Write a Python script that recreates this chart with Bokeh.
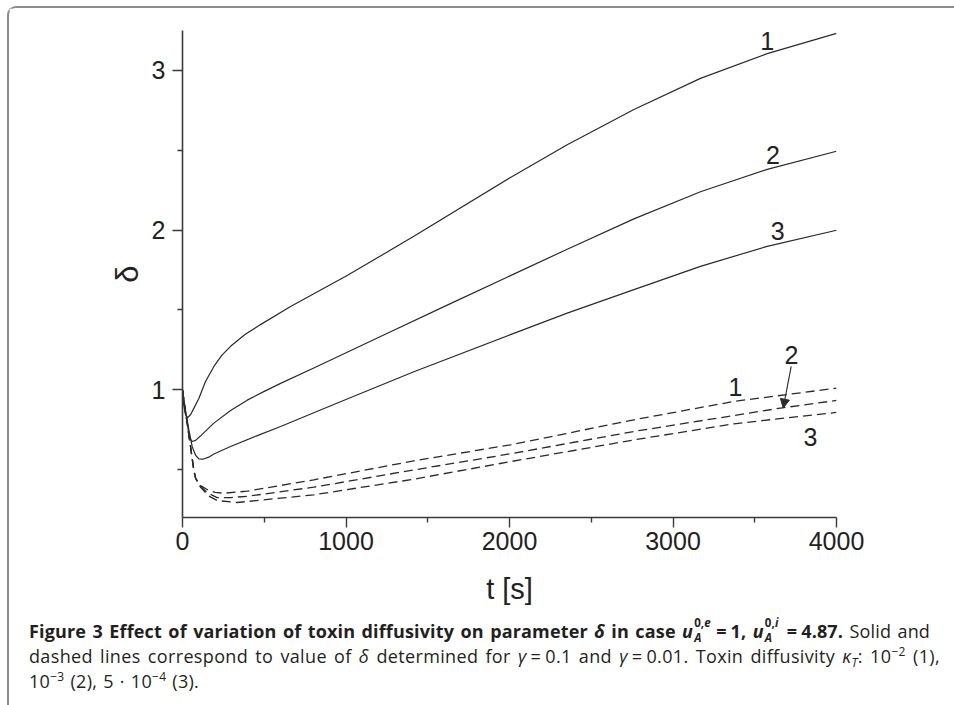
from bokeh.plotting import figure
from bokeh.models import FixedTicker, Div, Arrow, NormalHead, Range1d
from bokeh.layouts import column
from bokeh.core.properties import value
from bokeh.embed import file_html
from bokeh.resources import INLINE

# ---- data ----
# solid lines (gamma = 0.1)
t_s1 = [0, 8, 18, 32, 50, 70, 100, 140, 192, 240, 294, 380, 477, 661, 1007, 1415, 2006, 2353, 2761, 3168, 3576, 4000]
d_s1 = [1.0, 0.9, 0.845, 0.826, 0.845, 0.885, 0.945, 1.05, 1.146, 1.215, 1.272, 1.345, 1.408, 1.522, 1.715, 1.961, 2.33, 2.535, 2.755, 2.95, 3.105, 3.232]

t_s2 = [0, 15, 29, 40, 59, 80, 110, 150, 192, 294, 396, 500, 600, 803, 1211, 1619, 2006, 2353, 2761, 3168, 3576, 4000]
d_s2 = [1.0, 0.88, 0.80, 0.70, 0.676, 0.683, 0.71, 0.75, 0.791, 0.87, 0.935, 0.99, 1.04, 1.136, 1.334, 1.53, 1.715, 1.88, 2.07, 2.24, 2.38, 2.494]

t_s3 = [0, 20, 39, 59, 80, 100, 125, 160, 192, 294, 450, 600, 966, 1415, 2006, 2353, 2761, 3168, 3576, 4000]
d_s3 = [1.0, 0.86, 0.749, 0.645, 0.59, 0.567, 0.565, 0.578, 0.598, 0.645, 0.71, 0.77, 0.925, 1.113, 1.345, 1.48, 1.627, 1.773, 1.898, 1.999]

# dashed lines (gamma = 0.01)
t_d1 = [0, 15, 29, 49, 69, 80, 110, 160, 200, 253, 396, 803, 1415, 2006, 2761, 3372, 4000]
d_d1 = [1.0, 0.88, 0.79, 0.645, 0.498, 0.446, 0.40, 0.37, 0.357, 0.352, 0.365, 0.436, 0.555, 0.655, 0.812, 0.927, 1.01]

t_d2 = [0, 15, 29, 49, 69, 80, 110, 160, 212, 294, 400, 803, 1415, 2006, 2761, 3657, 4000]
d_d2 = [1.0, 0.88, 0.79, 0.645, 0.498, 0.446, 0.394, 0.35, 0.325, 0.325, 0.333, 0.39, 0.498, 0.599, 0.739, 0.885, 0.933]

t_d3 = [0, 15, 29, 49, 69, 80, 110, 160, 212, 335, 803, 1415, 2006, 2761, 3372, 4000]
d_d3 = [1.0, 0.88, 0.79, 0.645, 0.498, 0.446, 0.39, 0.335, 0.306, 0.294, 0.342, 0.44, 0.55, 0.686, 0.787, 0.858]

# curve labels
solid_lab_t = [3576, 3611, 3641]
solid_lab_d = [3.184, 2.47, 1.996]
solid_lab_txt = ["1", "2", "3"]
dash_lab_t = [3382, 3725, 3841]
dash_lab_d = [1.017, 1.219, 0.707]
dash_lab_txt = ["1", "2", "3"]
arrow_from = (3723, 1.146)
arrow_to = (3674, 0.885)

x_ticks = [0, 1000, 2000, 3000, 4000]
x_minor = [500, 1500, 2500, 3500]
y_ticks = [1, 2, 3]
y_minor = [0.5, 1.5, 2.5]

# ---- figure ----
p = figure(output_backend="svg", toolbar_location=None,
           frame_width=654, frame_height=487,
           min_border_left=173, min_border_right=118,
           min_border_top=22, min_border_bottom=100,
           x_range=Range1d(0, 4000), y_range=Range1d(0.2, 3.25),
           background_fill_color="white", border_fill_color="white")
p.outline_line_color = None
p.grid.visible = False

AX = "#3a3a3a"
for ax in (p.xaxis[0], p.yaxis[0]):
    ax.axis_line_color = AX
    ax.axis_line_width = 1.6
    ax.major_tick_line_color = AX
    ax.minor_tick_line_color = AX
    ax.major_tick_line_width = 1.4
    ax.minor_tick_line_width = 1.4
    ax.major_tick_in = 0
    ax.major_tick_out = 10
    ax.minor_tick_in = 0
    ax.minor_tick_out = 5
    ax.major_label_text_font = "Liberation Sans"
    ax.major_label_text_font_size = "25px"
    ax.major_label_text_color = "#222222"
    ax.axis_label_text_font = "Liberation Sans"
    ax.axis_label_text_font_style = "normal"
    ax.axis_label_text_color = "#222222"

p.xaxis.ticker = FixedTicker(ticks=x_ticks, minor_ticks=x_minor)
p.yaxis.ticker = FixedTicker(ticks=y_ticks, minor_ticks=y_minor)
p.xaxis.major_label_standoff = 4
p.yaxis.major_label_standoff = 7
p.xaxis.axis_label = "t [s]"
p.xaxis.axis_label_text_font_size = "29px"
p.xaxis.axis_label_standoff = 20
p.yaxis.axis_label = "δ"
p.yaxis.axis_label_text_font_size = "31px"
p.yaxis.axis_label_standoff = 4

LC = "#2a2a2a"
for t, d in ((t_s1, d_s1), (t_s2, d_s2), (t_s3, d_s3)):
    p.line(t, d, line_color=LC, line_width=1.2)
for t, d in ((t_d1, d_d1), (t_d2, d_d2), (t_d3, d_d3)):
    p.line(t, d, line_color=LC, line_width=1.3, line_dash="9 5")

p.text(x=solid_lab_t, y=solid_lab_d, text=solid_lab_txt, text_font=value("Liberation Sans"),
       text_font_size="25px", text_align="center", text_baseline="middle", text_color="#222222")
p.text(x=dash_lab_t, y=dash_lab_d, text=dash_lab_txt, text_font=value("Liberation Sans"),
       text_font_size="25px", text_align="center", text_baseline="middle", text_color="#222222")

p.add_layout(Arrow(x_start=arrow_from[0], y_start=arrow_from[1], x_end=arrow_to[0], y_end=arrow_to[1],
                   line_color=LC, line_width=1.1,
                   end=NormalHead(size=9, fill_color=LC, line_color=LC, line_width=1)))

# ---- caption ----
def stack(sup):
    return ('<span style="position:relative;display:inline-block;width:18px;height:17px;margin-left:1px">'
            '<span style="position:absolute;left:0;top:-4px;font-size:11.5px;line-height:12px">0,<i>' + sup + '</i></span>'
            '<span style="position:absolute;left:0;top:11px;font-size:11.5px;line-height:12px"><i>A</i></span></span>')

def sup(s):
    return '<span style="position:relative;top:-7px;font-size:12px">' + s + '</span>'

EQ = '<span style="margin:0 4px">=</span>'
line_style = ('height:25px;line-height:25px;white-space:nowrap;overflow:visible;'
              'text-align:justify;text-align-last:justify;')
line1 = ('<b>Figure 3 Effect of variation of toxin diffusivity on parameter '
         '<i>δ</i> in case <i>u</i>' + stack("e") + EQ + '1, <i>u</i>' + stack("i") + EQ + '4.87.</b> Solid and')
line2 = ('dashed lines correspond to value of <i>δ</i> determined for <i>γ</i>' + EQ + '0.1 and <i>γ</i>' + EQ +
         '0.01. Toxin diffusivity <i>κ</i><span style="position:relative;top:4px;font-size:12px"><i>T</i></span>: 10' +
         sup("−2") + ' (1),')
line3 = '10' + sup("−3") + ' (2), 5 · 10' + sup("−4") + ' (3).'

cap_html = (
    '<div style="font-family:\'Open Sans\';font-size:18px;color:#231f20;margin-top:-4px">'
    '<div style="' + line_style + 'width:901px;letter-spacing:0.15px">' + line1 + '</div>'
    '<div style="' + line_style + 'width:911px;letter-spacing:0.35px">' + line2 + '</div>'
    '<div style="height:25px;line-height:25px;white-space:nowrap;word-spacing:1px;letter-spacing:0.3px">' + line3 + '</div>'
    '</div>'
)
cap = Div(text=cap_html, width=930, height=80,
          styles={"padding-left": "15px", "padding-top": "1px"})

layout = column(p, cap, styles={"border-left": "2px solid #8c8c8c", "border-top": "2px solid #8c8c8c",
                                "border-top-left-radius": "9px", "margin-left": "7px", "margin-top": "6px"})

open("out.html", "w").write(file_html(layout, INLINE))
